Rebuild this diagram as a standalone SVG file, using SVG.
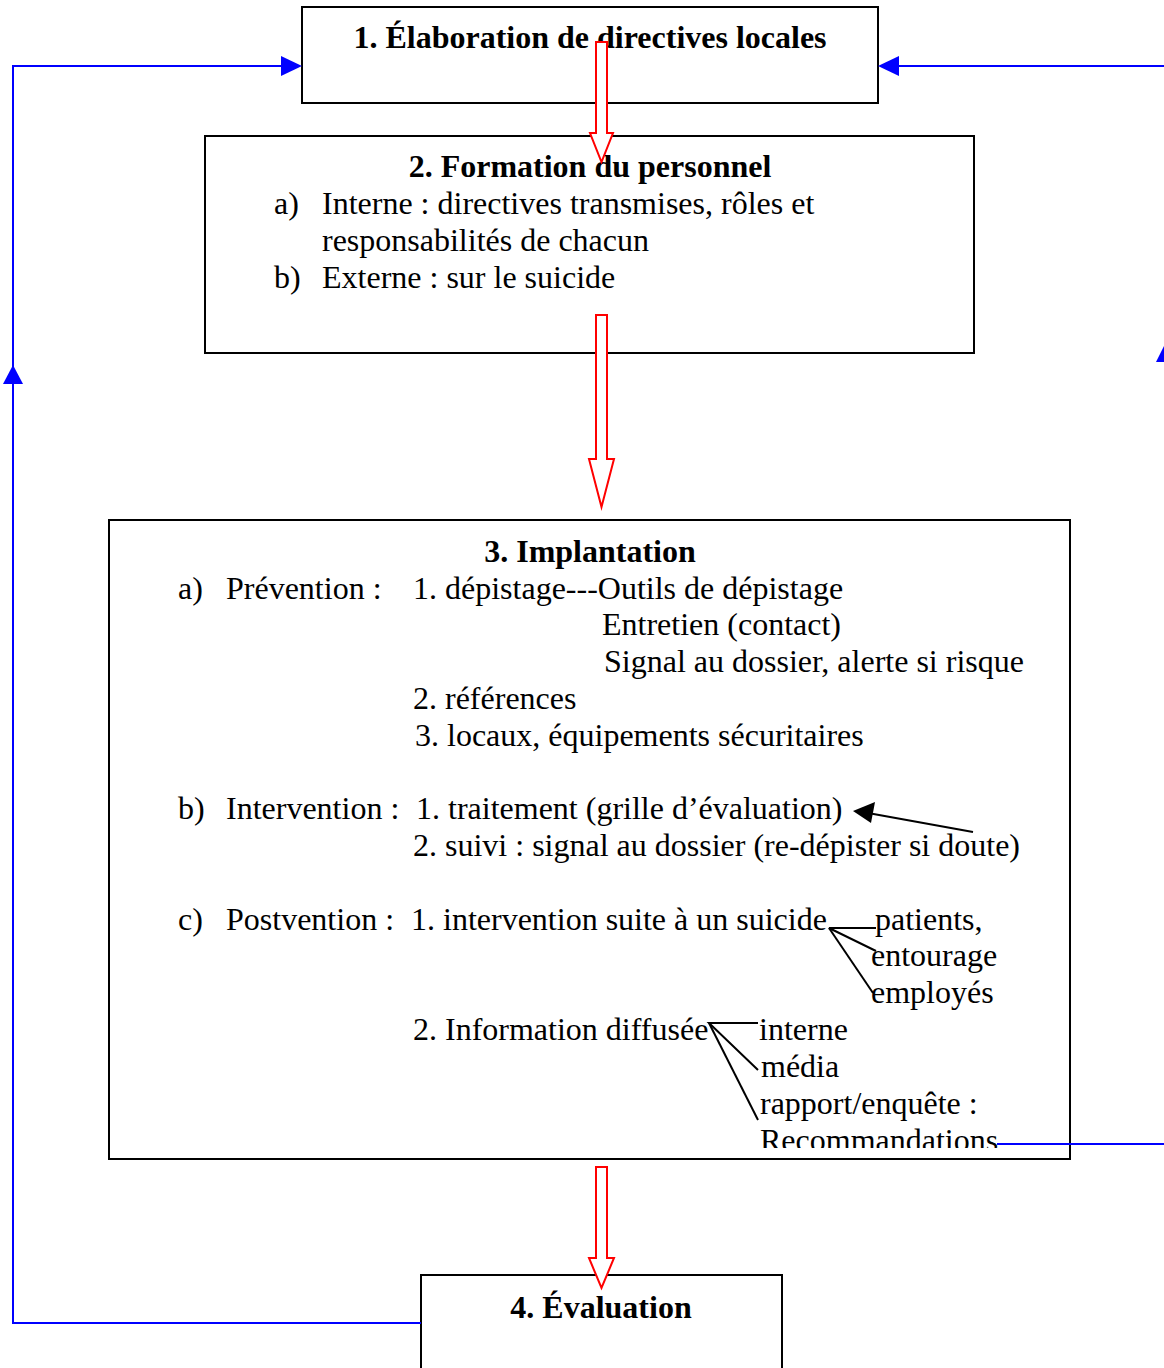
<svg xmlns="http://www.w3.org/2000/svg" width="1164" height="1368" viewBox="0 0 1164 1368">
<style>
.box{fill:#fff;stroke:#000;stroke-width:2}
.t{font-family:"Liberation Serif","Times New Roman",serif;font-size:32px;fill:#000}
.b{font-weight:bold;text-anchor:middle}
.blue{fill:none;stroke:#0000FF;stroke-width:2}
.bluehead{fill:#0000FF;stroke:none}
.red{fill:#fff;stroke:#FF0000;stroke-width:2}
.blk{fill:none;stroke:#000;stroke-width:2}
</style>
<defs>
<clipPath id="clipRec"><rect x="700" y="1100" width="400" height="48"/></clipPath>
</defs>
<rect width="1164" height="1368" fill="#fff"/>

<g id="node1">
<rect class="box" x="302" y="7" width="576" height="96"/>
<text class="t b" x="590" y="48">1. Élaboration de directives locales</text>
</g>

<g id="node2">
<rect class="box" x="205" y="136" width="769" height="217"/>
<text class="t b" x="590" y="177">2. Formation du personnel</text>
<text class="t" x="274" y="214">a)</text>
<text class="t" x="322" y="214">Interne : directives transmises, rôles et</text>
<text class="t" x="322" y="251">responsabilités de chacun</text>
<text class="t" x="274" y="288">b)</text>
<text class="t" x="322" y="288">Externe : sur le suicide</text>
</g>

<g id="node3">
<rect class="box" x="109" y="520" width="961" height="639"/>
<text class="t b" x="590" y="562">3. Implantation</text>
<text class="t" x="178" y="599">a)</text>
<text class="t" x="226" y="599">Prévention :</text>
<text class="t" x="413" y="599">1. dépistage---Outils de dépistage</text>
<text class="t" x="602" y="635">Entretien (contact)</text>
<text class="t" x="604" y="672">Signal au dossier, alerte si risque</text>
<text class="t" x="413" y="709">2. références</text>
<text class="t" x="415" y="746">3. locaux, équipements sécuritaires</text>
<text class="t" x="178" y="819">b)</text>
<text class="t" x="226" y="819">Intervention :</text>
<text class="t" x="416" y="819">1. traitement (grille d’évaluation)</text>
<text class="t" x="413" y="856">2. suivi : signal au dossier (re-dépister si doute)</text>
<text class="t" x="178" y="930">c)</text>
<text class="t" x="226" y="930">Postvention :</text>
<text class="t" x="411" y="930">1. intervention suite à un suicide</text>
<text class="t" x="875" y="930">patients,</text>
<text class="t" x="871" y="966">entourage</text>
<text class="t" x="871" y="1003">employés</text>
<text class="t" x="413" y="1040">2. Information diffusée</text>
<text class="t" x="759" y="1040">interne</text>
<text class="t" x="761" y="1077">média</text>
<text class="t" x="760" y="1114">rapport/enquête :</text>
<text class="t" x="760" y="1151" clip-path="url(#clipRec)">Recommandations</text>
</g>

<g id="node4">
<rect class="box" x="421" y="1275" width="361" height="110"/>
<text class="t b" x="601" y="1318">4. Évaluation</text>
</g>

<g id="connectors">
<line class="blk" x1="973" y1="832" x2="868" y2="813"/>
<polygon fill="#000" points="853,811 875,802 871,823"/>
<polyline class="blk" points="876,928 829,928 876,951"/>
<line class="blk" x1="829" y1="928" x2="873" y2="993"/>
<polyline class="blk" points="758,1023 709,1023 758,1070"/>
<line class="blk" x1="709" y1="1023" x2="758" y2="1120"/>

<polyline class="blue" points="421,1323 13,1323 13,66 282,66"/>
<polygon class="bluehead" points="302,66 281,56 281,76"/>
<polygon class="bluehead" points="13,365 3,384 23,384"/>
<polyline class="blue" points="997,1144 1166,1144 1166,66 898,66"/>
<polygon class="bluehead" points="878,66 899,56 899,76"/>
<polygon class="bluehead" points="1166,342 1156,362 1176,362"/>

<polygon class="red" points="596,42 607,42 607,133 613,133 601.5,162 590,133 596,133"/>
<polygon class="red" points="596,315 607,315 607,459 614,459 601.5,507 589,459 596,459"/>
<polygon class="red" points="596,1167 607,1167 607,1258 614,1258 601.5,1288 589,1258 596,1258"/>
</g>
</svg>
